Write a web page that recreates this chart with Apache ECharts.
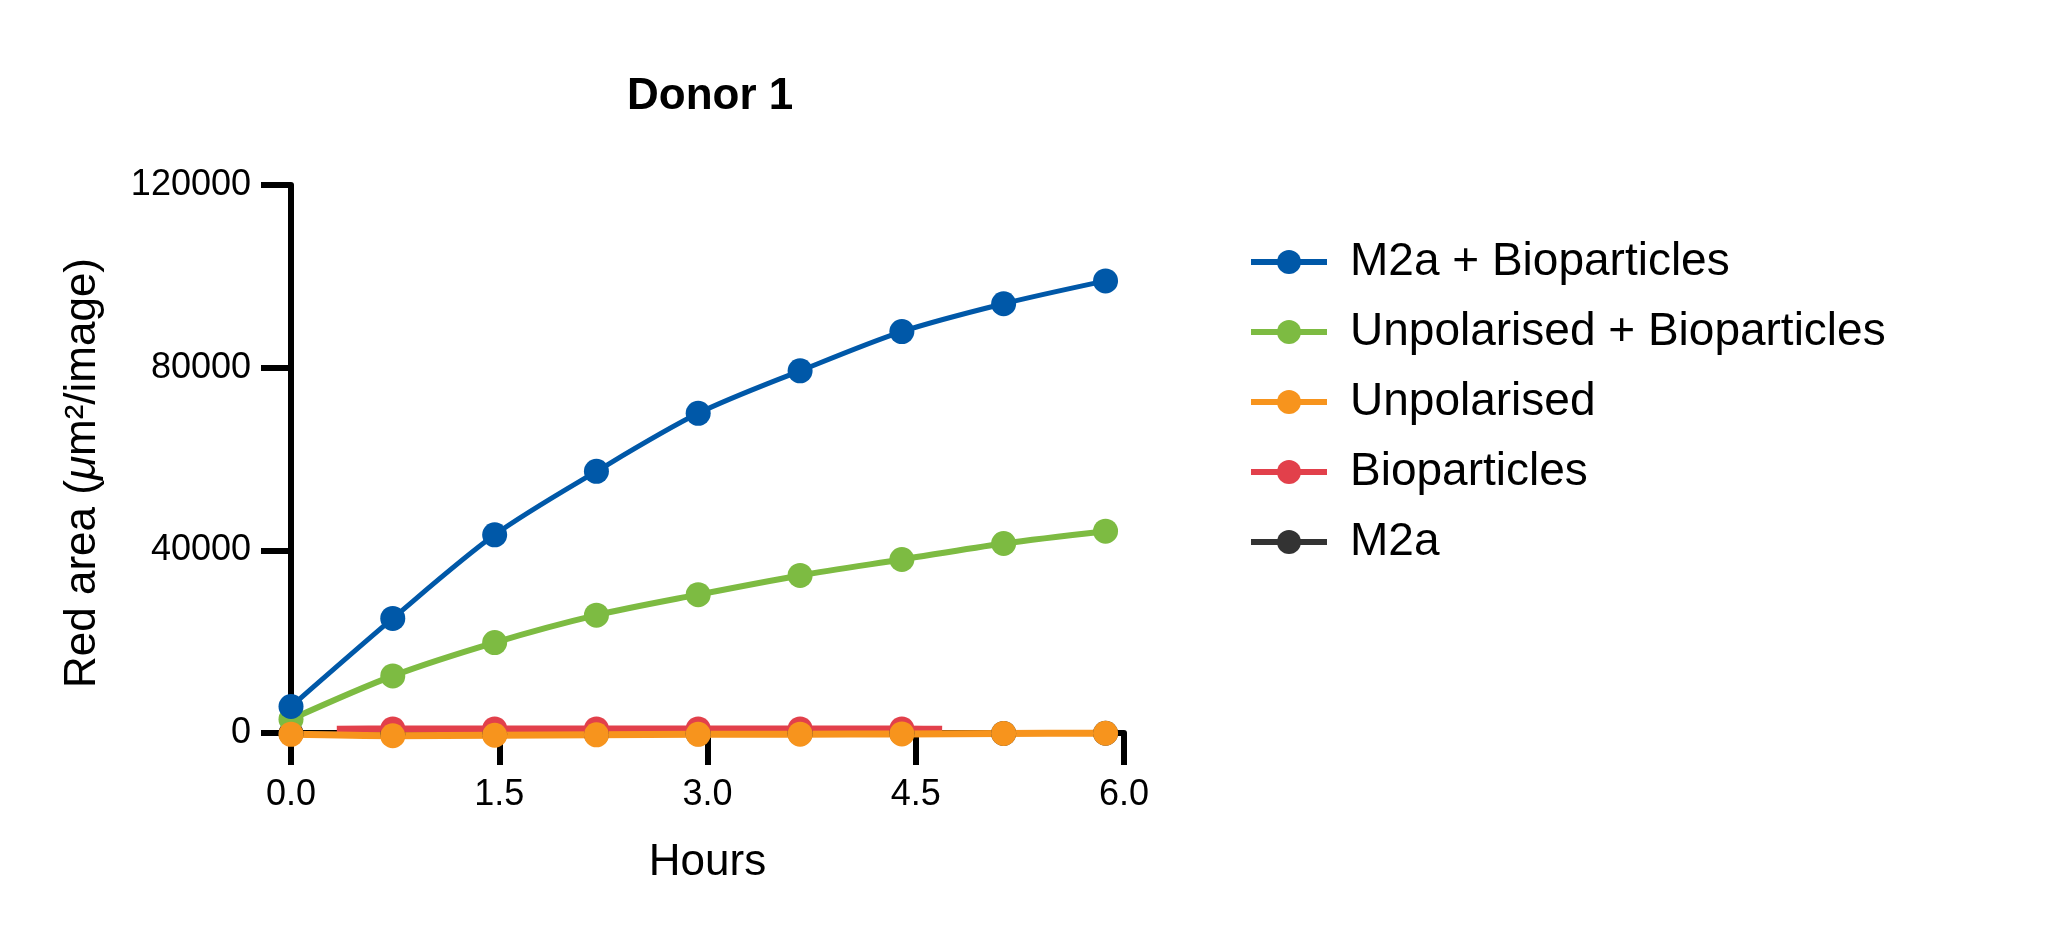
<!DOCTYPE html>
<html>
<head>
<meta charset="utf-8">
<title>Donor 1</title>
<script src="https://cdn.jsdelivr.net/npm/echarts@6/dist/echarts.min.js"></script>
<style>
	html, body { margin: 0; padding: 0; background: #fff; }
	#donor-chart { width: 2048px; height: 946px; }
</style>
</head>
<body>
<div id="donor-chart"></div>
<script>
// ---------------------------数据-------------------------------
var hours = [0, 0.733, 1.467, 2.2, 2.933, 3.667, 4.4, 5.133, 5.867];
var m2aBio = [5800, 25100, 43400, 57300, 70000, 79300, 87900, 94000, 99000];
var unpolBio = [3000, 12500, 19800, 25800, 30300, 34500, 38000, 41500, 44200];
var unpol = [-300, -600, -500, -400, -300, -250, -200, -100, -50];
var bioHours = [0.733, 1.467, 2.2, 2.933, 3.667, 4.4];
var bio = [900, 900, 900, 900, 900, 900];
var bioLineStart = [0.33, 800];
var bioLineEnd = [4.69, 800];
var m2a = [-100, -200, -200, -200, -150, -100, -50, -100, -50];
var legendNames = ['M2a + Bioparticles', 'Unpolarised + Bioparticles', 'Unpolarised', 'Bioparticles', 'M2a'];
var yTicks = { min: 0, max: 120000, interval: 40000 };
var xTicks = { min: 0, max: 6, interval: 1.5 };

function pairs(xs, ys) {
	return xs.map(function(x, i) { return [x, ys[i]]; });
}

var font = '"Liberation Sans", Arial, Helvetica, sans-serif';

var chart = echarts.init(document.getElementById('donor-chart'));

function lineSeries(name, color, width, data) {
	return {
		name: name,
		type: 'line',
		data: data,
		smooth: 0.3,
		clip: false,
		symbol: 'circle',
		symbolSize: 25,
		lineStyle: { color: color, width: width },
		itemStyle: { color: color },
		emphasis: { disabled: true },
		animation: false
	};
}

var bioData = [{ value: bioLineStart, symbol: 'none' }]
	.concat(pairs(bioHours, bio))
	.concat([{ value: bioLineEnd, symbol: 'none' }]);

chart.setOption({
	backgroundColor: '#ffffff',
	title: {
		text: 'Donor 1',
		left: 622,
		top: 70,
		textStyle: { fontFamily: font, fontSize: 44, fontWeight: 'bold', color: '#000' }
	},
	legend: {
		data: legendNames,
		orient: 'vertical',
		left: 1243,
		top: 234,
		itemWidth: 76,
		itemHeight: 30,
		itemGap: 24,
		lineStyle: { width: 6 },
		textStyle: { fontFamily: font, fontSize: 46, color: '#000', lineHeight: 46, padding: [0, 0, 0, 18] }
	},
	grid: {
		left: 291,
		right: 924,
		top: 185,
		bottom: 213
	},
	xAxis: {
		type: 'value',
		min: xTicks.min,
		max: xTicks.max,
		interval: xTicks.interval,
		name: 'Hours',
		nameLocation: 'middle',
		nameGap: 108,
		nameTextStyle: { fontFamily: font, fontSize: 44, color: '#000' },
		axisLine: { onZero: false, lineStyle: { color: '#000', width: 6 } },
		axisTick: { length: 32, lineStyle: { color: '#000', width: 6 } },
		axisLabel: {
			margin: 44,
			fontFamily: font,
			fontSize: 36,
			color: '#000',
			formatter: function(v) { return v.toFixed(1); }
		},
		splitLine: { show: false }
	},
	yAxis: {
		type: 'value',
		min: yTicks.min,
		max: yTicks.max,
		interval: yTicks.interval,
		name: '{n|Red area (}{i|μ}{n|m²/image)}',
		nameLocation: 'middle',
		nameGap: 186,
		nameRotate: 90,
		nameTextStyle: {
			padding: [0, 28, 0, 0],
			rich: {
				n: { fontFamily: font, fontSize: 44, color: '#000' },
				i: { fontFamily: font, fontSize: 44, color: '#000', fontStyle: 'italic' }
			}
		},
		axisLine: { show: true, lineStyle: { color: '#000', width: 6 } },
		axisTick: { show: true, length: 30, lineStyle: { color: '#000', width: 6 } },
		axisLabel: {
			margin: 40,
			fontFamily: font,
			fontSize: 36,
			color: '#000',
			formatter: function(v) { return String(v); }
		},
		splitLine: { show: false }
	},
	series: [
		lineSeries('M2a', '#333333', 5, pairs(hours, m2a)),
		lineSeries('Bioparticles', '#e2404b', 7, bioData),
		lineSeries('Unpolarised + Bioparticles', '#7dbb42', 6, pairs(hours, unpolBio)),
		lineSeries('Unpolarised', '#f7941d', 7, pairs(hours, unpol)),
		lineSeries('M2a + Bioparticles', '#0058a8', 5, pairs(hours, m2aBio))
	]
});
</script>
</body>
</html>
